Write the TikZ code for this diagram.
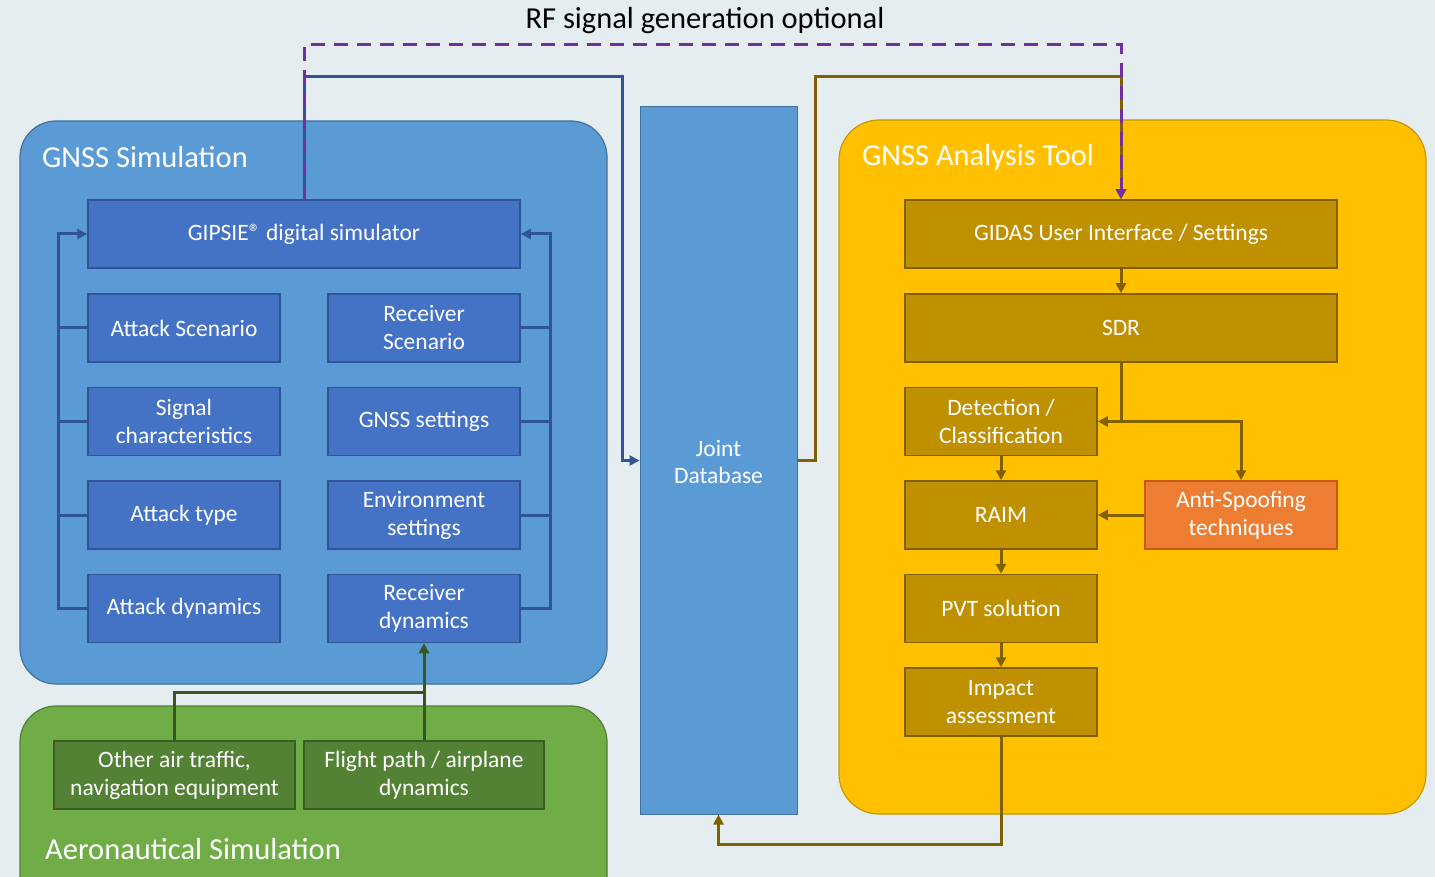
\documentclass[tikz,border=0pt]{standalone}
\usepackage{fontspec}
\setmainfont{Carlito}
\usetikzlibrary{arrows.meta}

\definecolor{bgcol}{HTML}{E6EDF1}
\definecolor{simfill}{HTML}{5B9BD5}
\definecolor{simedge}{HTML}{41719C}
\definecolor{bluebox}{HTML}{4472C4}
\definecolor{blueedge}{HTML}{2F5597}
\definecolor{yelfill}{HTML}{FFC000}
\definecolor{yeledge}{HTML}{C49A00}
\definecolor{brbox}{HTML}{BF9000}
\definecolor{bredge}{HTML}{806000}
\definecolor{orfill}{HTML}{ED7D31}
\definecolor{oredge}{HTML}{C55A11}
\definecolor{grfill}{HTML}{70AD47}
\definecolor{gredge}{HTML}{507E32}
\definecolor{grbox}{HTML}{548235}
\definecolor{grboxedge}{HTML}{3B5C25}
\definecolor{grline}{HTML}{375623}
\definecolor{purp}{HTML}{7030A0}

\tikzset{
  boxtext/.style={text=white, align=center, font=\fontsize{23.5}{28}\selectfont, inner sep=0pt},
  simbox/.style={boxtext, draw=blueedge, line width=1.5pt, fill=bluebox, minimum height=68},
  anabox/.style={boxtext, draw=bredge, line width=1.5pt, fill=brbox, minimum height=68},
  aerobox/.style={boxtext, draw=grboxedge, line width=1.5pt, fill=grbox, minimum height=68},
  tip/.style={-{Triangle[length=10pt,width=10pt]}},
  bline/.style={draw=blueedge, line width=3pt},
  oline/.style={draw=bredge, line width=3pt},
  gline/.style={draw=grline, line width=3pt},
  pline/.style={draw=purp, line width=3pt, dash pattern=on 14pt off 9pt},
  title/.style={text=white, anchor=west, font=\fontsize{30.5}{34}\selectfont, inner sep=0pt},
}

\begin{document}
\begin{tikzpicture}[x=1pt, y=-1pt]
\useasboundingbox (0,0) rectangle (1435,877);
\clip (0,0) rectangle (1435,877);
\fill[bgcol] (0,0) rectangle (1435,877);

% group panels
\draw[fill=simfill, draw=simedge, line width=1.2pt, rounded corners=36] (20,121) rectangle (607,684);
\draw[fill=grfill, draw=gredge, line width=1.2pt, rounded corners=36] (20,706) rectangle (607,930);
\draw[fill=yelfill, draw=yeledge, line width=1.2pt, rounded corners=40] (839,120) rectangle (1426,814);
\node[boxtext, draw=simedge, line width=1pt, fill=simfill, minimum width=157, minimum height=707] (jdb) at (718.5,460.5) {};
\node[boxtext] at (718.5,462) {Joint\\Database};

\node[title] (simtitle) at (42,157) {GNSS Simulation};
\node[title] (anatitle) at (862,157) {GNSS Analysis Tool};
\node[title] (aerotitle) at (45,849) {Aeronautical Simulation};
\node[font=\fontsize{30.5}{34}\selectfont, inner sep=0pt] (rflabel) at (705,21) {RF signal generation optional};

% GNSS simulation blocks
\node[simbox, minimum width=432] (gipsie) at (304,234) {GIPSIE® digital simulator};
\node[simbox, minimum width=192] (attscen) at (184,328) {Attack Scenario};
\node[simbox, minimum width=192] (rxscen) at (424,328) {Receiver\\Scenario};
\node[simbox, minimum width=192] (sigchar) at (184,421.5) {Signal\\characteristics};
\node[simbox, minimum width=192] (gnssset) at (424,421.5) {GNSS settings};
\node[simbox, minimum width=192] (atttype) at (184,515) {Attack type};
\node[simbox, minimum width=192] (envset) at (424,515) {Environment\\settings};
\node[simbox, minimum width=192] (attdyn) at (184,608.5) {Attack dynamics};
\node[simbox, minimum width=192] (rxdyn) at (424,608.5) {Receiver\\dynamics};

% aeronautical blocks
\node[aerobox, minimum width=241] (other) at (174.5,775) {Other air traffic,\\navigation equipment};
\node[aerobox, minimum width=240] (flight) at (424,775) {Flight path / airplane\\dynamics};

% analysis blocks
\node[anabox, minimum width=432] (gidas) at (1121,234) {GIDAS User Interface / Settings};
\node[anabox, minimum width=432] (sdr) at (1121,328) {SDR};
\node[anabox, minimum width=192] (det) at (1001,421.5) {Detection /\\Classification};
\node[anabox, minimum width=192] (raim) at (1001,515) {RAIM};
\node[boxtext, draw=oredge, line width=1.5pt, fill=orfill, minimum height=68, minimum width=192] (anti) at (1241,515) {Anti-Spoofing\\techniques};
\node[anabox, minimum width=192] (pvt) at (1001,608.5) {PVT solution};
\node[anabox, minimum width=192] (impact) at (1001,702) {Impact\\assessment};

% left feedback bus
\draw[bline, tip] (attdyn.west) -- ++(-29,0) |- (gipsie.west);
\draw[bline] (attscen.west) -- ++(-29,0);
\draw[bline] (sigchar.west) -- ++(-29,0);
\draw[bline] (atttype.west) -- ++(-29,0);
% right feedback bus
\draw[bline, tip] (rxdyn.east) -- ++(30,0) |- (gipsie.east);
\draw[bline] (rxscen.east) -- ++(30,0);
\draw[bline] (gnssset.east) -- ++(30,0);
\draw[bline] (envset.east) -- ++(30,0);

% simulator output to database
\draw[bline, tip] (gipsie.north) |- (622,77) |- (jdb.west);
% database to analysis tool
\draw[oline, tip] (jdb.east) -- (815,460.5) |- (1121,77) -- (gidas.north);
% optional RF path
\draw[pline, tip] (gipsie.north) |- (1121,45) -- (gidas.north);

% analysis chain
\draw[oline, tip] (gidas.south) -- (sdr.north);
\draw[oline, tip] (sdr.south) |- (det.east);
\draw[oline, tip] (sdr.south) |- (1241,421.5) -- (anti.north);
\draw[oline, tip] (det.south) -- (raim.north);
\draw[oline, tip] (anti.west) -- (raim.east);
\draw[oline, tip] (raim.south) -- (pvt.north);
\draw[oline, tip] (pvt.south) -- (impact.north);
\draw[oline, tip] (impact.south) |- (718.5,844) -- (jdb.south);

% aeronautical inputs
\draw[gline, tip] (flight.north) -- (rxdyn.south);
\draw[gline] (other.north) |- (424,692);
\end{tikzpicture}
\end{document}
